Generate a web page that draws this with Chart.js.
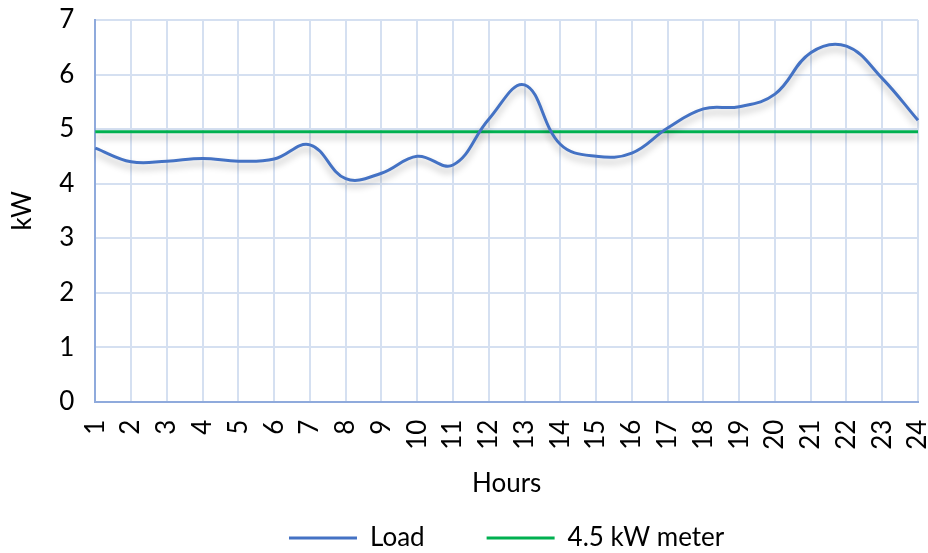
<!DOCTYPE html>
<html>
<head>
<meta charset="utf-8">
<script src="https://cdn.jsdelivr.net/npm/chart.js@4.4.1/dist/chart.umd.min.js"></script>
<style>
  html, body { margin: 0; padding: 0; background: #fff; }
  #wrap { width: 928px; height: 553px; }
</style>
</head>
<body>
<div id="wrap"><canvas id="loadChart" width="928" height="553"></canvas></div>
<script>
const hours = ["1","2","3","4","5","6","7","8","9","10","11","12","13","14","15","16","17","18","19","20","21","22","23","24"];
const loadKw = [4.65, 4.40, 4.41, 4.46, 4.41, 4.45, 4.71, 4.09, 4.19, 4.50, 4.34, 5.18, 5.81, 4.72, 4.50, 4.56, 5.02, 5.37, 5.41, 5.64, 6.40, 6.52, 5.93, 5.16];
const meterKw = hours.map(() => 4.95);

// soft drop shadow under the lines, like the office chart
const lineShadow = {
  id: 'lineShadow',
  beforeDatasetDraw(chart) {
    const ctx = chart.ctx;
    ctx.save();
    ctx.shadowColor = 'rgba(0,0,0,0.28)';
    ctx.shadowBlur = 7;
    ctx.shadowOffsetY = 5;
  },
  afterDatasetDraw(chart) {
    chart.ctx.restore();
  }
};

const font = { family: "Lato, 'Liberation Sans', sans-serif", size: 26 };

new Chart(document.getElementById("loadChart"), {
  type: "line",
  data: {
    labels: hours,
    datasets: [
      {
        label: "Load",
        data: loadKw,
        borderColor: "#4472C4",
        backgroundColor: "#4472C4",
        borderWidth: 3,
        pointRadius: 0,
        tension: 0.4
      },
      {
        label: "4.5 kW meter",
        data: meterKw,
        borderColor: "#00B050",
        backgroundColor: "#00B050",
        borderWidth: 3,
        pointRadius: 0
      }
    ]
  },
  options: {
    responsive: false,
    animation: false,
    layout: { padding: { top: 0, right: 0, left: 1, bottom: -8 } },
    plugins: {
      tooltip: { enabled: false },
      legend: {
        position: "bottom",
        fullSize: false,
        labels: {
          color: "#000",
          font: font,
          boxWidth: 68,
          boxHeight: 3,
          padding: 62,
          generateLabels(chart) {
            return Chart.defaults.plugins.legend.labels.generateLabels(chart).map(l => ({ ...l, lineWidth: 0 }));
          }
        }
      }
    },
    scales: {
      x: {
        offset: false,
        grid: { color: "#D5E0F1", lineWidth: 2, drawTicks: false },
        border: { color: "#8FAADC", width: 2 },
        ticks: { color: "#000", font: font, minRotation: 90, maxRotation: 90, padding: 18, autoSkip: false },
        title: { display: true, text: "Hours", color: "#000", font: font, padding: { top: 0, bottom: -36 } },
        afterFit(scale) { scale.paddingRight = 10; }
      },
      y: {
        min: 0,
        max: 7,
        grid: { color: "#D5E0F1", lineWidth: 2, drawTicks: false },
        border: { color: "#8FAADC", width: 2 },
        ticks: { color: "#000", font: font, stepSize: 1, padding: 21 },
        title: { display: true, text: "kW", color: "#000", font: font, padding: { top: 6, bottom: 0 } },
        afterFit(scale) { scale.paddingTop = 20; }
      }
    }
  },
  plugins: [lineShadow]
});
</script>
</body>
</html>
